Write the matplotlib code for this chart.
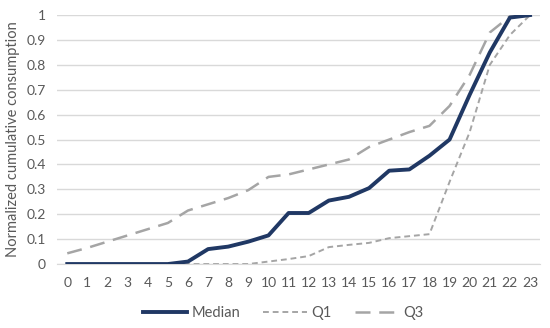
import matplotlib.pyplot as plt

# ==========================================
# DATA
# ==========================================

hours = list(range(24))

median = [0, 0, 0, 0, 0, 0, 0.01, 0.06, 0.07, 0.09, 0.115, 0.205,
          0.205, 0.255, 0.27, 0.305, 0.375, 0.38, 0.435, 0.5, 0.68, 0.85,
          0.99, 1.0]

q1 = [0, 0, 0, 0, 0, 0, 0, 0, 0, 0, 0.01, 0.02,
      0.032, 0.068, 0.077, 0.085, 0.104, 0.112, 0.12, 0.33, 0.53, 0.8,
      0.92, 1.0]

q3 = [0.043, 0.065, 0.09, 0.115, 0.14, 0.165, 0.215, 0.24, 0.265, 0.297, 0.35, 0.36,
      0.38, 0.40, 0.42, 0.47, 0.50, 0.53, 0.555, 0.635, 0.76, 0.93,
      0.995, 1.0]

# ==========================================
# CHART
# ==========================================

plt.rcParams["font.family"] = ["Lato", "DejaVu Sans"]

fig = plt.figure(figsize=(5.5, 3.28), dpi=100)
ax = fig.add_axes([0.104, 0.195, 0.878, 0.759])

ax.plot(hours, median, color="#203864", linewidth=2.8, label="Median",
        solid_joinstyle="round", zorder=3)
ax.plot(hours, q1, color="#A5A5A5", linewidth=1.4, linestyle=(0, (3, 2)),
        label="Q1", zorder=2)
ax.plot(hours, q3, color="#A5A5A5", linewidth=1.8, linestyle=(0, (6, 3.5)),
        label="Q3", zorder=2)

ax.set_xlim(-0.5, 23.5)
ax.set_ylim(0, 1)
ax.set_xticks(hours)
ax.set_yticks([i / 10 for i in range(11)])
ax.set_yticklabels(["0", "0.1", "0.2", "0.3", "0.4", "0.5", "0.6", "0.7",
                    "0.8", "0.9", "1"])

ax.grid(axis="y", color="#D9D9D9", linewidth=1)
ax.set_axisbelow(True)
for side in ["top", "right", "left"]:
    ax.spines[side].set_visible(False)
ax.spines["bottom"].set_color("#D9D9D9")

ax.tick_params(axis="both", length=0, labelsize=10, colors="#595959")
ax.tick_params(axis="x", pad=9)
ax.tick_params(axis="y", pad=8)

ax.set_ylabel("Normalized cumulative consumption", fontsize=10.5,
              color="#595959", labelpad=5)

fig.legend(loc="center", bbox_to_anchor=(0.515, 0.045), ncol=3,
           frameon=False, fontsize=10.5, labelcolor="#595959",
           handlelength=3.0, columnspacing=1.6, handletextpad=0.3)

plt.savefig("out.png", dpi=100)
plt.close()
